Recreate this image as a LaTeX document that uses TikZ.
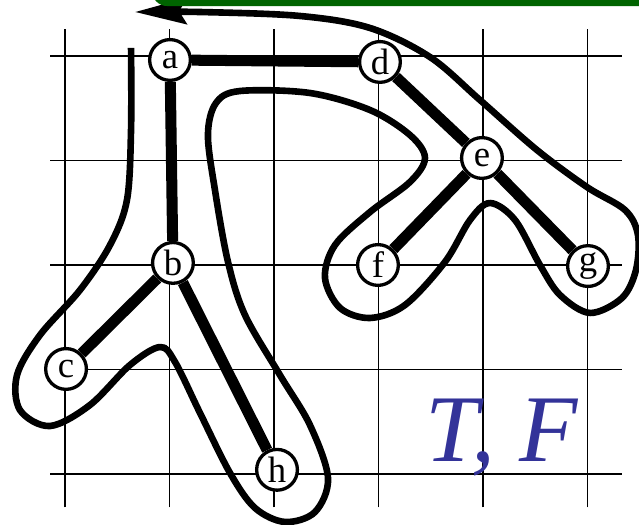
\documentclass[tikz,border=0pt]{standalone}
\usepackage{fontspec}
\setmainfont{Liberation Serif}
\usetikzlibrary{arrows.meta}

\definecolor{titlegreen}{RGB}{0,100,0}
\definecolor{tfblue}{RGB}{51,51,153}

\newcommand*{\xmin}{-0.14}
\newcommand*{\xmax}{5.33}
\newcommand*{\ymin}{-4.32}
\newcommand*{\ymax}{0.26}

\begin{document}
\begin{tikzpicture}
[
	vertex/.style={circle,draw,fill=white,line width=0.9pt,inner sep=0pt,minimum size=0.39cm,font=\fontsize{10}{12}\selectfont},
	treeedge/.style={line width=3pt},
	tour/.style={line width=1.8pt,line join=round}
]
	\useasboundingbox (-0.622,-4.488) rectangle (5.493,0.536);

	% grid
	\foreach \x in {0,...,5} {
		\draw[line width=0.4pt] (\x,\ymin) -- (\x,\ymax);
	}
	\foreach \y in {0,-1,...,-4} {
		\draw[line width=0.4pt] (\xmin,\y) -- (\xmax,\y);
	}

	% walk round the tree
	\draw[tour,-{Stealth[length=14pt,width=7pt,inset=2pt]}] plot[smooth,tension=0.55] coordinates {
		(0.632,0.077) (0.632,-0.708) (0.593,-1.378) (0.431,-1.809) (0.144,-2.239)
		(-0.239,-2.670) (-0.459,-3.053) (-0.431,-3.388) (-0.144,-3.541) (0.239,-3.340)
		(0.622,-2.957) (0.909,-2.785) (1.053,-2.928) (1.292,-3.416) (1.579,-3.990)
		(1.818,-4.325) (2.105,-4.459) (2.392,-4.364) (2.517,-4.038) (2.344,-3.531)
		(2.057,-3.053) (1.722,-2.478) (1.560,-1.971) (1.435,-1.282) (1.368,-0.756)
		(1.445,-0.450) (1.675,-0.335) (2.344,-0.354) (2.919,-0.517) (3.301,-0.756)
		(3.445,-0.976) (3.301,-1.206) (2.919,-1.493) (2.584,-1.809) (2.488,-2.124)
		(2.632,-2.411) (2.919,-2.507) (3.254,-2.383) (3.636,-1.971) (3.876,-1.569)
		(4.067,-1.407) (4.306,-1.569) (4.545,-2.000) (4.737,-2.287) (5.024,-2.459)
		(5.330,-2.316) (5.464,-2.048) (5.483,-1.713) (5.359,-1.474) (4.995,-1.254)
		(4.517,-0.900) (3.971,-0.421) (3.493,-0.010) (2.919,0.268) (2.249,0.383)
		(1.292,0.421) (0.670,0.421)
	};

	% vertices
	\node[vertex] (a) at (1.005,-0.038) {a};
	\node[vertex] (b) at (1.033,-1.980) {b};
	\node[vertex] (c) at (0.010,-2.995) {c};
	\node[vertex] (d) at (3.014,-0.057) {d};
	\node[vertex] (e) at (3.990,-0.976) {e};
	\node[vertex] (f) at (2.995,-2.000) {f};
	\node[vertex] (g) at (5.005,-2.010) {g};
	\node[vertex] (h) at (2.029,-3.960) {h};

	% tree edges
	\draw[treeedge] (a) -- (d);
	\draw[treeedge] (a) -- (b);
	\draw[treeedge] (b) -- (c);
	\draw[treeedge] (b) -- (h);
	\draw[treeedge] (d) -- (e);
	\draw[treeedge] (e) -- (f);
	\draw[treeedge] (e) -- (g);

	% title bar
	\fill[titlegreen,rounded corners=0.15cm] (0.83,0.478) rectangle (6.2,1.2);

	% label
	\node[tfblue,anchor=base,font=\fontsize{26}{30}\selectfont\itshape] (tf) at (4.18,-3.885) {T, F};

\end{tikzpicture}
\end{document}
